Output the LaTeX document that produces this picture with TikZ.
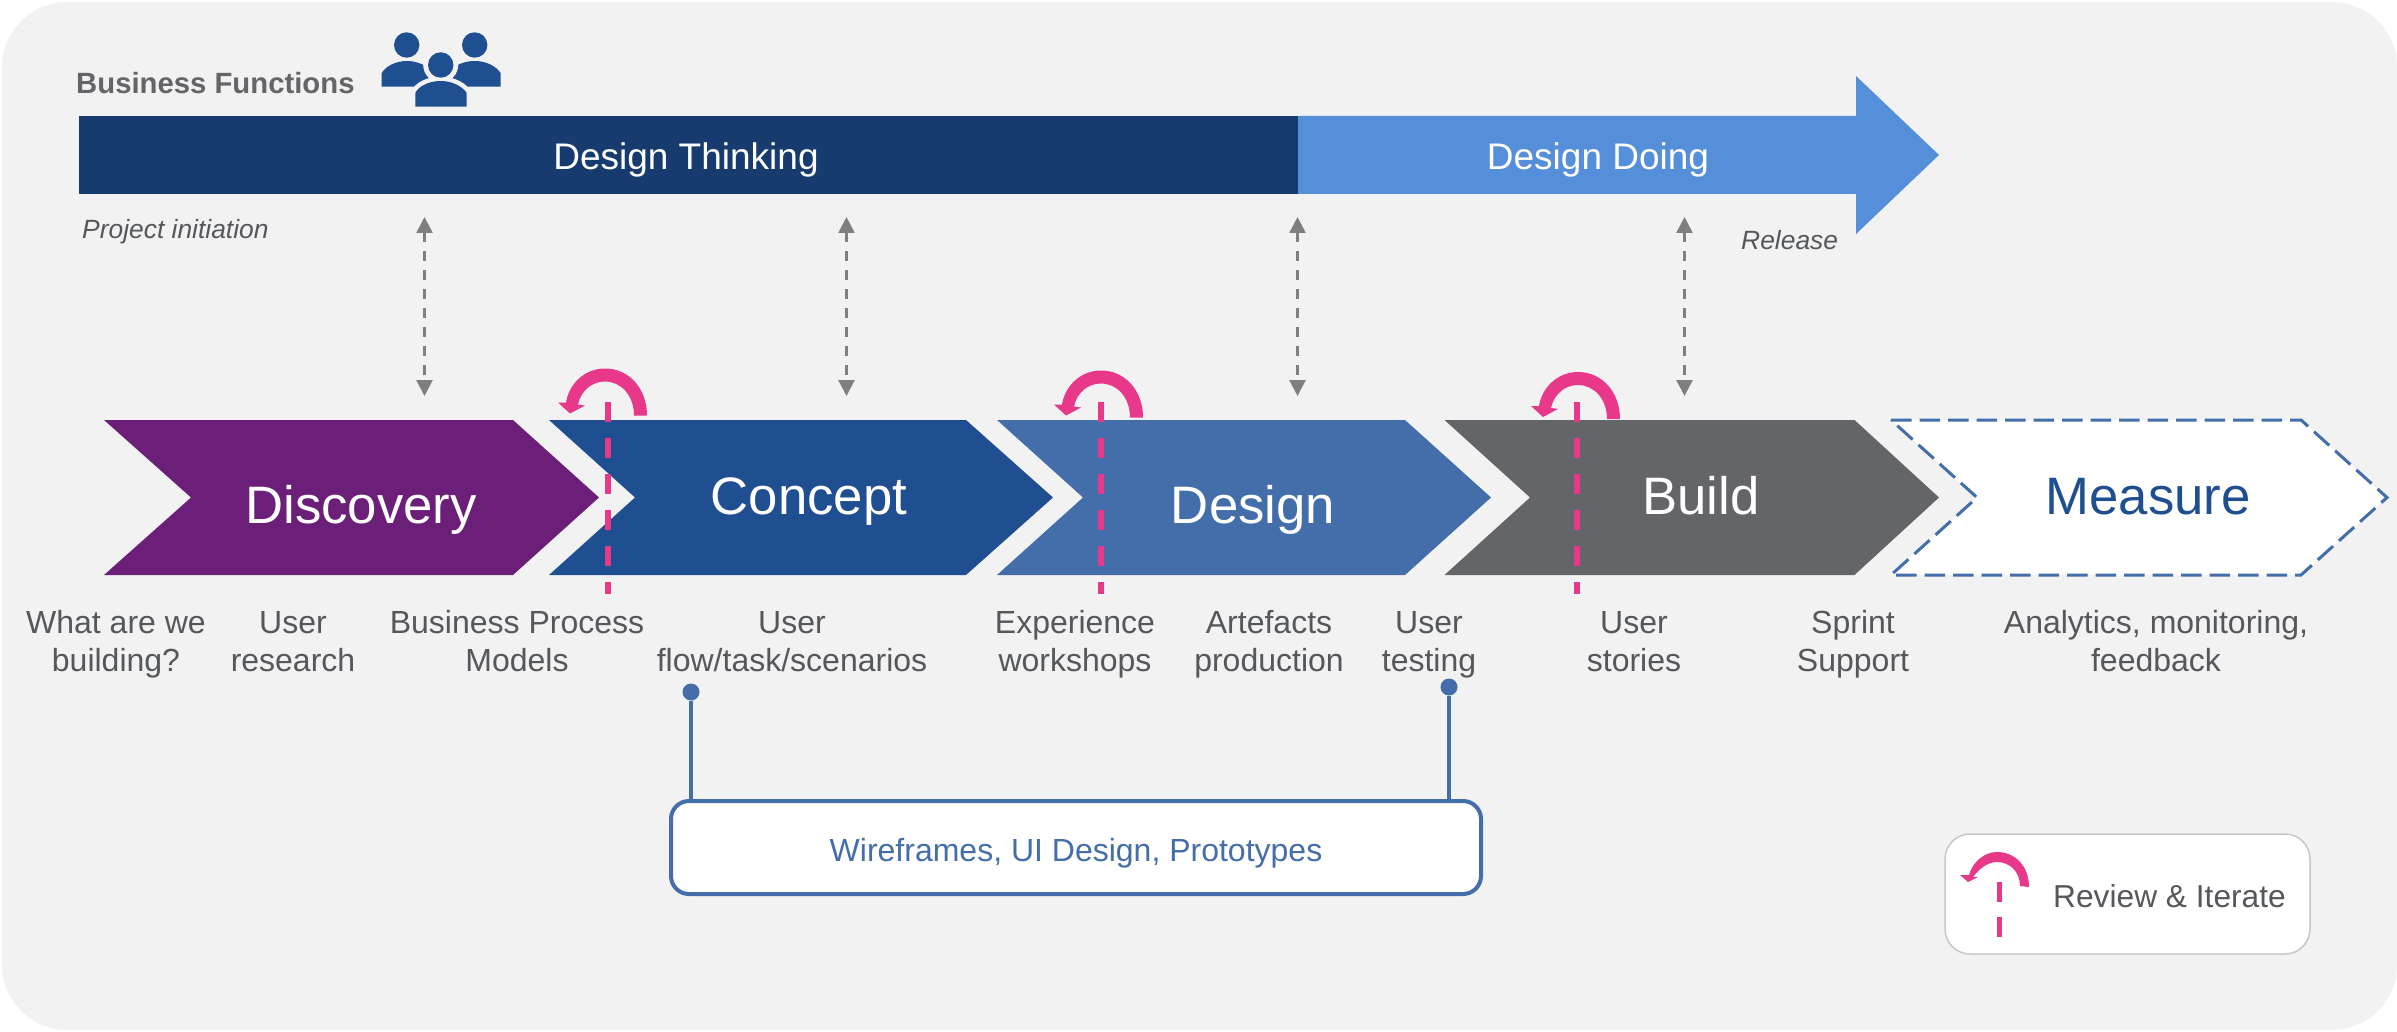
\documentclass[tikz,border=0pt]{standalone}
\usepackage{fontspec}
\setmainfont{Liberation Sans}
\usetikzlibrary{arrows.meta}
\definecolor{bgc}{HTML}{F2F2F2}
\definecolor{dark}{HTML}{173B6E}
\definecolor{lightb}{HTML}{558ED9}
\definecolor{purp}{HTML}{6B1F78}
\definecolor{conc}{HTML}{1F4F91}
\definecolor{desg}{HTML}{436EA9}
\definecolor{bld}{HTML}{636569}
\definecolor{pink}{HTML}{E8388A}
\definecolor{txt}{HTML}{54575B}
\definecolor{gry}{HTML}{7F7F7F}
\tikzset{
  x=1pt,y=-1pt,
  chev/.style={font=\fontsize{52.7}{60}\selectfont,text=white,anchor=base,inner sep=0pt},
  lab/.style={font=\fontsize{32}{38}\selectfont,text=txt,anchor=base,align=center,inner sep=0pt},
  bar/.style={font=\fontsize{37}{42}\selectfont,text=white,anchor=base,inner sep=0pt},
  note/.style={font=\fontsize{26.4}{30}\selectfont\itshape,text=txt,anchor=base,inner sep=0pt},
  dbl/.style={draw=gry,line width=2.5pt,dash pattern=on 10pt off 9pt,{Triangle[length=16pt,width=16pt,sep=0pt]}-{Triangle[length=16pt,width=16pt]}},
  pinkdash/.style={draw=pink,line width=5.5pt,dash pattern=on 20pt off 16pt},
  dot/.style={circle,fill=desg,inner sep=0pt,minimum size=17pt},
  link/.style={draw=desg,line width=4pt},
  iconfill/.style={fill=conc},
}
\newcommand{\loopmark}[2]{%
  \fill[pink,shift={(#1,#2)}] (42,0) .. controls (42,-27) and (24,-47) .. (0,-47)
    .. controls (-20,-47) and (-36,-32) .. (-39,-13) -- (-47,-13) -- (-35,-2) -- (-20,-10) -- (-27,-11)
    .. controls (-24,-25) and (-13,-34) .. (0,-34)
    .. controls (16,-34) and (29,-20) .. (29,0) -- cycle;}
\begin{document}
\begin{tikzpicture}
\useasboundingbox (0,0) rectangle (2397,1032);
\fill[white] (0,0) rectangle (2397,1032);
\fill[bgc,rounded corners=65pt] (2,2) rectangle (2397,1030);

% top bar
\fill[dark] (79,116) rectangle (1298,194);
\fill[lightb] (1298,116) -- (1856,116) -- (1856,76) -- (1939,155) -- (1856,234) -- (1856,194) -- (1298,194) -- cycle;
\node[bar] (dt) at (686,170) {Design Thinking};
\node[bar] (dd) at (1598,170) {Design Doing};
\node[font=\fontsize{29.3}{34}\selectfont\bfseries,text=bld,anchor=base west,inner sep=0pt] (bf) at (76,94) {Business Functions};
\node[note,anchor=base west] (pi) at (82,239) {Project initiation};
\node[note,anchor=base west] (rel) at (1741,250) {Release};

% people icon
\fill[iconfill] (406.7,45) circle [radius=12.7];
\fill[iconfill] (474.7,45) circle [radius=12.7];
\fill[iconfill] (381.7,86.7) -- (381.7,73) .. controls (386,66) and (396,61) .. (406.7,61) .. controls (418,61) and (428,66) .. (432,73) -- (432,86.7) -- cycle;
\fill[iconfill] (449.5,86.7) -- (449.5,73) .. controls (453,66) and (463,61) .. (474.7,61) .. controls (486,61) and (496,66) .. (500.5,73) -- (500.5,86.7) -- cycle;
\fill[bgc] (440.7,65) circle [radius=17.5];
\path[fill=conc,draw=bgc,line width=9pt] (415.3,106.7) -- (415.3,93) .. controls (418,87) and (428,81) .. (440.7,81) .. controls (453,81) and (463,87) .. (466.7,93) -- (466.7,106.7) -- cycle;
\fill[iconfill] (440.7,65) circle [radius=12.7];
\fill[iconfill] (415.3,106.7) -- (415.3,93) .. controls (418,87) and (428,81) .. (440.7,81) .. controls (453,81) and (463,87) .. (466.7,93) -- (466.7,106.7) -- cycle;

% chevrons
\fill[purp] (104,420) -- (513,420) -- (599,497.5) -- (513,575) -- (104,575) -- (191,497.5) -- cycle;
\fill[conc] (549,420) -- (966,420) -- (1053,497.5) -- (966,575) -- (549,575) -- (635,497.5) -- cycle;
\fill[desg] (997,420) -- (1405,420) -- (1491,497.5) -- (1405,575) -- (997,575) -- (1083,497.5) -- cycle;
\fill[bld] (1444.5,420) -- (1854.5,420) -- (1939,497.5) -- (1854.5,575) -- (1444.5,575) -- (1530,497.5) -- cycle;
\draw[fill=white,draw=desg,line width=3pt,dash pattern=on 20.5pt off 8pt] (1891,420) -- (2301,420) -- (2387,497.5) -- (2301,575) -- (1891,575) -- (1977,497.5) -- cycle;
\node[chev] (disc) at (361,523) {Discovery};
\node[chev] (conc) at (809,514) {Concept};
\node[chev] (desn) at (1253,523) {Design};
\node[chev] (buil) at (1701,514) {Build};
\node[chev,text=conc] (meas) at (2148,514) {Measure};

% double arrows
\coordinate (a1t) at (424.5,217); \coordinate (a1b) at (424.5,396);
\coordinate (a2t) at (846.5,217); \coordinate (a2b) at (846.5,396);
\coordinate (a3t) at (1297.5,217);  \coordinate (a3b) at (1297.5,396);
\coordinate (a4t) at (1684.5,217);  \coordinate (a4b) at (1684.5,396);
\draw[dbl] (a1t) -- (a1b);
\draw[dbl] (a2t) -- (a2b);
\draw[dbl] (a3t) -- (a3b);
\draw[dbl] (a4t) -- (a4b);

% review loops
\loopmark{605}{415.5}
\loopmark{1101}{417.5}
\loopmark{1578}{419}
\coordinate (p1t) at (608,401.5); \coordinate (p1b) at (608,594);
\coordinate (p2t) at (1101,401.5); \coordinate (p2b) at (1101,594);
\coordinate (p3t) at (1577,401.5); \coordinate (p3b) at (1577,594);
\draw[pinkdash] (p1t) -- (p1b);
\draw[pinkdash] (p2t) -- (p2b);
\draw[pinkdash] (p3t) -- (p3b);

% labels
\node[lab] (l1) at (116,671) {What are we\\building?};
\node[lab] (l2) at (293,671) {User\\research};
\node[lab] (l3) at (517,671) {Business Process\\Models};
\node[lab] (l4) at (792,671) {User\\flow/task/scenarios};
\node[lab] (l5) at (1075,671) {Experience\\workshops};
\node[lab] (l6) at (1269,671) {Artefacts\\production};
\node[lab] (l7) at (1429,671) {User\\testing};
\node[lab] (l8) at (1634,671) {User\\stories};
\node[lab] (l9) at (1853,671) {Sprint\\Support};
\node[lab] (l10) at (2156,671) {Analytics, monitoring,\\feedback};

% wireframes
\node[draw=desg,fill=white,line width=4pt,rounded corners=18pt,minimum width=810pt,minimum height=93pt,inner sep=0pt,font=\fontsize{32}{38}\selectfont,text=desg] (wf) at (1076,847.5) {\raisebox{-13.5pt}[0pt][0pt]{Wireframes, UI Design, Prototypes}};
\node[dot] (dl) at (691,692) {};
\node[dot] (dr) at (1449,687) {};
\draw[link] (dl) -- (dl |- wf.north);
\draw[link] (dr) -- (dr |- wf.north);

% legend
\node[draw=black!22,fill=white,line width=1.5pt,rounded corners=25pt,minimum width=365pt,minimum height=120pt,inner sep=0pt] (leg) at (2127.5,894) {};
\fill[pink] (2029,887) .. controls (2029,866) and (2015,852) .. (1997,852)
  .. controls (1985,852) and (1973,861) .. (1969,875) -- (1960,875) -- (1968,882) -- (1978,877) -- (1973,877)
  .. controls (1980,868) and (1988,862) .. (1997,862)
  .. controls (2010,862) and (2020,872) .. (2020,886) -- cycle;
\coordinate (pl1) at (1999,882); \coordinate (pl2) at (1999,937);
\draw[draw=pink,line width=5pt,dash pattern=on 20pt off 15pt] (pl1) -- (pl2);
\node[anchor=base west,inner sep=0pt,font=\fontsize{31.7}{38}\selectfont,text=txt] (legt) at (2053,907) {Review \& Iterate};
\end{tikzpicture}
\end{document}
